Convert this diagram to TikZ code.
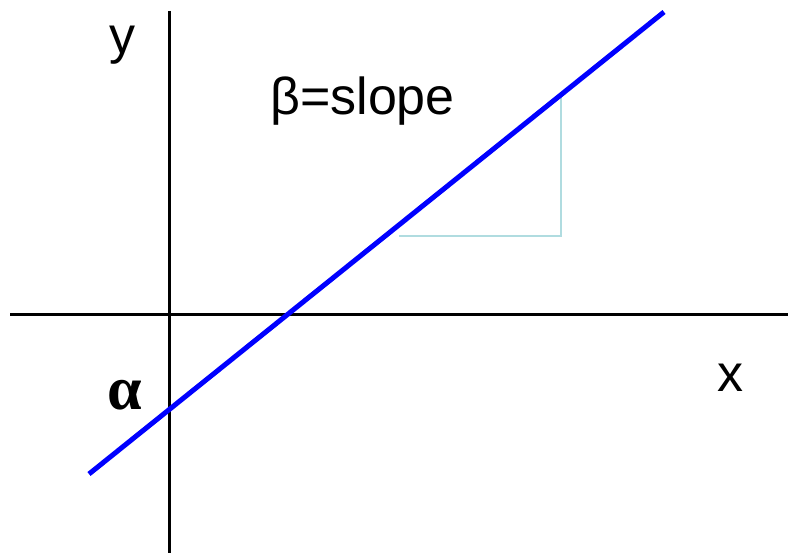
\documentclass[tikz,border=0pt]{standalone}
\usepackage{fontspec}
\setmainfont{Liberation Sans}
\newfontfamily\serifgr{Liberation Serif}
\begin{document}
\begin{tikzpicture}[x=1pt,y=-1pt,
  axis/.style={line width=3pt,black},
  fit line/.style={line width=5pt,blue},
  tri/.style={line width=2pt,color={rgb,255:red,176;green,220;blue,224}},
  lbl/.style={inner sep=0pt,anchor=base,font=\fontsize{52}{60}\selectfont}]
\useasboundingbox (0,0) rectangle (788,553);
\coordinate (ytop) at (169,11);
\coordinate (ybot) at (169,553);
\coordinate (xl) at (10,315);
\coordinate (xr) at (788,315);
\draw[axis] (ytop) -- (ybot);
\draw[axis] (xl) -- (xr);
\coordinate (ta) at (399,236);
\coordinate (tb) at (561,236);
\coordinate (tc) at (561,93);
\draw[tri] (ta) -- (tb) -- (tc);
\coordinate (la) at (89,474);
\coordinate (lb) at (664,12);
\draw[fit line] (la) -- (lb);
\node[lbl] (ly) at (122,54) {y};
\node[lbl,anchor=base west] (lbeta) at (270,115) {β=slope};
\node[lbl] (lx) at (730,392) {x};
\node[lbl,font=\serifgr\bfseries\fontsize{62}{70}\selectfont] (lalpha) at (125,410) {α};
\end{tikzpicture}
\end{document}
